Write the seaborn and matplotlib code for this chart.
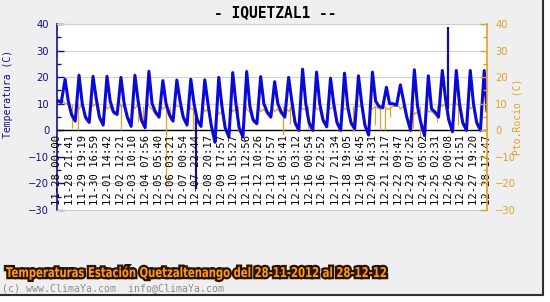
import matplotlib
matplotlib.use("Agg")
import numpy as np
import pandas as pd
import seaborn as sns
import matplotlib.pyplot as plt
from matplotlib.lines import Line2D
from matplotlib.patches import Rectangle, PathPatch
from matplotlib.textpath import TextPath
from matplotlib.font_manager import FontProperties
from matplotlib.transforms import Affine2D

# ---------------- data ----------------
tick_labels = ["11-28 00:00", "11-28 21:41", "11-29 19:19", "11-30 16:59", "12-01 14:42",
               "12-02 12:21", "12-03 10:10", "12-04 07:56", "12-05 05:40", "12-06 03:21",
               "12-07 00:54", "12-07 22:44", "12-08 20:17", "12-09 17:57", "12-10 15:27",
               "12-11 12:56", "12-12 10:26", "12-13 07:57", "12-14 05:41", "12-15 03:12",
               "12-16 00:54", "12-16 22:52", "12-17 21:34", "12-18 19:05", "12-19 16:45",
               "12-20 14:31", "12-21 12:17", "12-22 09:47", "12-23 07:25", "12-24 05:02",
               "12-25 02:31", "12-26 00:08", "12-26 21:51", "12-27 19:20", "12-28 17:47"]

# temperature, one value per day at 00:00, 06:30, 13:00, 18:30
temp_hours = [0, 6.5, 13, 18.5]
temp_mid = [11.2, 6, 5, 5, 7, 5, 4, 7, 6, 5, 4, 2, 1, 1, 4, 7, 7, 3, 3, 4, 3, 3, 2, 9, 10, 5, 3, 7, 4, 3, 3]
temp_min = [10.5, 3.5, 3.0, 2.0, 6.0, 1.5, 1.0, 5.0, 3.5, 2.0, 1.5, -4.5, -2.5, -2.5, 2.5, 5.0,
            5.0, 0.0, 0.0, 1.3, 0.0, 0.6, -1.8, 8.5, 9.5, 0.0, -2.0, 5.0, -0.5, 0.0, 0.0]
temp_max = [19.2, 20.7, 20.3, 20.3, 19.9, 20.7, 22.2, 18.7, 18.9, 19.2, 19.0, 19.9, 21.7, 22.1, 20.2, 18.3,
            19.9, 23.0, 21.9, 19.6, 21.5, 20.5, 21.9, 16.2, 17.1, 22.8, 20.5, 22.5, 22.5, 22.5, 22.5]
temp_eve = [11, 10, 12, 11, 10, 11, 10, 10, 11, 10, 10, 9, 10, 9, 10, 10,
            11, 10, 10, 10, 9, 10, 11, 10, 11, 9, 8, 12, 10, 10, 10]
temp_end_hour = 737.78
temp_end_value = 7.0
temp_spike_hours = [238.7, 670.3]
temp_spike_from = [6.0, 8.0]
temp_spike_to = [-22.0, 39.0]

# dew point, one value per day at 00:00, 06:30, 10:00, 13:00, 18:00
dew_hours = [0, 6.5, 10, 13, 18]
dew_mid = [10.5, 5, 4, 4, 6, 4, 3, 6, 5, 4, 3, 1, 0, 0, 3, 6, 6, 2, 2, 3, 2, 2, 1, 8, 9, 4, 2, 6, 3, 2, 2]
dew_min = [10.0, 3, 2.5, 1.5, 5.5, 1, 0.5, 4.5, 3, 1.5, 1, -5, -3, -3, 2, 4.5,
           4.5, -0.5, -0.5, 1, -0.5, 0, -2, 8, 9, -0.5, -2.5, 4.5, -1, -0.5, -0.5]
dew_10 = [11, 11, 12, 10, 11, 10, 11, 9, 10, 10, 9, 8, 9, 10, 9, 8, 8, 9, 10, 9, 9, 10, 9, 9, 9, 8, 9, 10, 11, 10, 13]
dew_13 = [10, 8, 9, 8, 9, 8, 9, 8, 9, 8, 7, 6, 7, 8, 7, 7, 7, 8, 8, 8, 8, 9, 8, 8, 8, 6, 7, 9, 10, 8, 14]
dew_18 = [10, 10, 10, 9, 9, 10, 8, 9, 9, 8, 8, 7, 8, 7, 8, 8, 9, 8, 8, 9, 8, 9, 9, 8, 9, 7, 7, 10, 9, 9, 12]
dew_end_value = 10.0
dew_spike_hours = [24.7, 35.5, 108.9, 138.6, 147.1, 186.1, 193.5, 233.0, 310.3, 318.9, 387.5, 399.5,
                   430.4, 507.6, 545.5, 554.0, 562.6, 571.2, 610.7, 622.7, 651.9, 688.0, 703.4, 725.7]
dew_spike_to = [1.0, 0.0, 0.0, 3.0, 3.0, -21.5, 4.0, 0.0, -0.5, 1.4, -1.8, 2.5,
                0.6, -0.5, 2.0, 0.0, 0.0, 5.0, 1.0, -2.4, 3.0, 2.0, 2.0, 0.0]
dew_spike_from = [10, 10, 10, 9, 9, 10, 9, 9, 9, 9, 9, 9, 9, 9, 9, 9, 9, 9, 9, 9, 9, 9, 9, 9]

# ---------------- build tables ----------------
start = pd.Timestamp("2012-11-28 00:00")
tick_hours = [((pd.Timestamp("2012-" + s) - start).total_seconds() / 3600.0) for s in tick_labels]

def series(hours, cols, end_v):
    rows = []
    for d in range(31):
        for hh, col in zip(hours, cols):
            t = d * 24 + hh
            if t < temp_end_hour:
                rows.append((t, col[d]))
    rows.append((temp_end_hour, end_v))
    return pd.DataFrame(rows, columns=["h", "v"])

df_t = series(temp_hours, [temp_mid, temp_min, temp_max, temp_eve], temp_end_value)
df_d = series(dew_hours, [dew_mid, dew_min, dew_10, dew_13, dew_18], dew_end_value)

# ---------------- figure ----------------
sns.set_theme(style="white")
plt.rcParams["font.family"] = ["DejaVu Sans"]

W, H = 550, 302
fig = plt.figure(figsize=(W / 100, H / 100), dpi=100, facecolor="white")
fig.patches.append(Rectangle((0, 1 - 294.5 / H), 543 / W, 294.5 / H, transform=fig.transFigure,
                             facecolor="#efefef", edgecolor="none", zorder=-10))
fig.lines.append(Line2D([543 / W, 543 / W], [1 - 294.5 / H, 1], transform=fig.transFigure,
                        color="#303030", lw=1.5))
fig.lines.append(Line2D([0, 543 / W], [1 - 294.5 / H, 1 - 294.5 / H], transform=fig.transFigure,
                        color="#303030", lw=1.5))

navy = "#10108a"
orange = "#e0a028"
blue = "#0a0ad8"

ax = fig.add_axes([57.5 / W, 1 - 210 / H, (487 - 57.5) / W, (210 - 24) / H])
ax.set_facecolor("white")

for yv in range(-20, 41, 10):
    ax.axhline(yv, color="#d4d4d4", lw=0.8, zorder=0)
ax.axhline(0, color="black", lw=1.0, zorder=1)

sns.lineplot(data=df_d, x="h", y="v", ax=ax, color=orange, lw=0.9, estimator=None, sort=False, zorder=2)
ax.vlines(dew_spike_hours, dew_spike_from, dew_spike_to, color=orange, lw=0.9, zorder=2)
sns.lineplot(data=df_t, x="h", y="v", ax=ax, color=blue, lw=2.2, estimator=None, sort=False, zorder=3)
ax.vlines(temp_spike_hours, temp_spike_from, temp_spike_to, color="#1010a0", lw=1.6, zorder=3)

ax.set_xlim(0, temp_end_hour)
ax.set_ylim(-30, 40)
ax.set_xticks([])
ax.set_xlabel("")
ax.set_ylabel("")
ax.set_yticks(range(-30, 41, 10))
ax.set_yticks(range(-25, 40, 10), minor=True)
ax.tick_params(axis="y", which="major", direction="in", length=5, width=1, colors=navy,
               labelsize=7.2, pad=6, left=True)
ax.tick_params(axis="y", which="minor", direction="in", length=3, width=1, colors=navy, left=True)
for sp in ["top", "bottom"]:
    ax.spines[sp].set_color("#cfcfcf")
    ax.spines[sp].set_linewidth(0.8)
ax.spines["left"].set_color(navy)
ax.spines["left"].set_linewidth(1.2)
ax.spines["right"].set_visible(False)

ax2 = ax.twinx()
ax2.set_ylim(-30, 40)
ax2.set_yticks(range(-30, 41, 10))
ax2.set_yticks(range(-25, 40, 10), minor=True)
ax2.tick_params(axis="y", which="major", direction="in", length=5, width=1, colors=orange,
                labelsize=7.2, pad=6, right=True)
ax2.tick_params(axis="y", which="minor", direction="in", length=3, width=1, colors=orange, right=True)
for sp in ["top", "bottom", "left"]:
    ax2.spines[sp].set_visible(False)
ax2.spines["right"].set_color(orange)
ax2.spines["right"].set_linewidth(1.2)
ax2.grid(False)

for h, lab in zip(tick_hours, tick_labels):
    ax.text(h, -28.2, lab, rotation=90, ha="center", va="bottom", family="DejaVu Sans Mono",
            fontsize=7.6, color="black", zorder=4)

fig.text(275 / W, 1 - 13 / H, "- IQUETZAL1 --", ha="center", va="center",
         family="DejaVu Sans Mono", fontweight="bold", fontsize=10.5, color="black")
fig.text(8 / W, 1 - 94 / H, "Temperatura (C)", rotation=90, ha="center", va="center",
         family="DejaVu Sans Mono", fontsize=7, color=navy)
fig.text(517 / W, 1 - 117 / H, "Pto.Rocio (C)", rotation=90, ha="center", va="center",
         family="DejaVu Sans Mono", fontsize=7, color=orange)

# caption: bold text horizontally condensed to the reference width
caption = "Temperaturas Estación Quetzaltenango del 28-11-2012 al 28-12-12"
tp = TextPath((0, 0), caption, size=13.5, prop=FontProperties(family="DejaVu Sans", weight="bold"))
ext = tp.get_extents()
sx = 380.0 / ext.width
tr = Affine2D().translate(-ext.x0, 0).scale(sx, 1.0).translate(6, H - 277)
for lw_, fc, ec in [(3.2, "#2a1200", "#2a1200"), (0, "#ff9a1a", "none")]:
    p = PathPatch(tp, facecolor=fc, edgecolor=ec, lw=lw_)
    p.set_transform(tr)
    fig.patches.append(p)
# transparent real-text copy of the caption so the text stays searchable
fig.text(6 / W, 1 - 272 / H, caption, ha="left", va="center", fontsize=6, alpha=0.0)
fig.text(2 / W, 1 - 288 / H, "(c) www.ClimaYa.com  info@ClimaYa.com", ha="left", va="center",
         family="DejaVu Sans Mono", fontsize=7.1, color="#8c8c8c")

fig.savefig("out.png", dpi=100, facecolor="white")
